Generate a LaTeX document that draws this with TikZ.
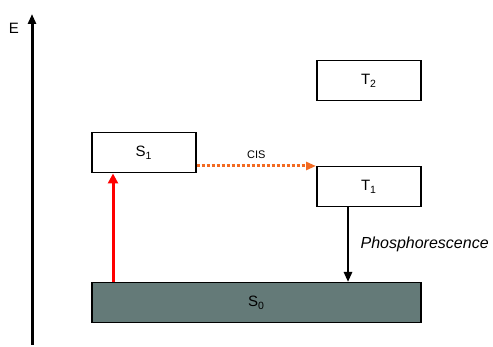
\documentclass[tikz,border=0pt]{standalone}
\usepackage{fontspec}
\setmainfont{Liberation Sans}
\usetikzlibrary{arrows.meta,positioning}
\definecolor{groundfill}{HTML}{647A78}
\definecolor{iscorange}{HTML}{F26A22}
\tikzset{
  level/.style={draw, line width=1.5pt, minimum width=104pt, minimum height=40pt, inner sep=0pt, font=\fontsize{15}{17}\selectfont},
  trans/.style={-{Triangle[length=10pt,width=8pt]}, line width=2.5pt}
}

\begin{document}
\begin{tikzpicture}[x=1pt, y=-1pt]
	\useasboundingbox (0,0) rectangle (493,347);
	% energy axis
	\coordinate (ebot) at (32,345);
	\coordinate (etop) at (32,14);
	\draw[trans, line width=3pt] (ebot) -- (etop);
	\node[font=\fontsize{15}{17}\selectfont] (elab) at (14,28) {E};
	% levels
	\node[level, anchor=north west] (s1) at (91,132) {S\textsubscript{1}};
	\node[level, anchor=north west] (t2) at (316,60) {T\textsubscript{2}};
	\node[level, anchor=north west] (t1) at (316,166) {T\textsubscript{1}};
	\node[level, anchor=north west, minimum width=329pt, fill=groundfill] (s0) at (91,282) {S\textsubscript{0}};
	% absorption
	\coordinate (abs) at (113,0);
	\draw[trans, red, line width=3pt, -{Triangle[length=10pt,width=10pt]}] (s0.north -| abs) -- (s1.south -| abs);
	% intersystem crossing
	\draw[trans, iscorange, dash pattern=on 3pt off 2pt, line width=3pt] (s1.east |- t1.north west) -- (t1.north west)
		node[midway, above=3pt, black, font=\fontsize{11}{13}\selectfont] (cis) {CIS};
	% phosphorescence
	\coordinate (ph) at (348,0);
	\draw[trans] (t1.south -| ph) -- (s0.north -| ph)
		node[midway, right=8pt, font=\fontsize{16}{18}\selectfont\itshape] (phos) {Phosphorescence};
\end{tikzpicture}
\end{document}
